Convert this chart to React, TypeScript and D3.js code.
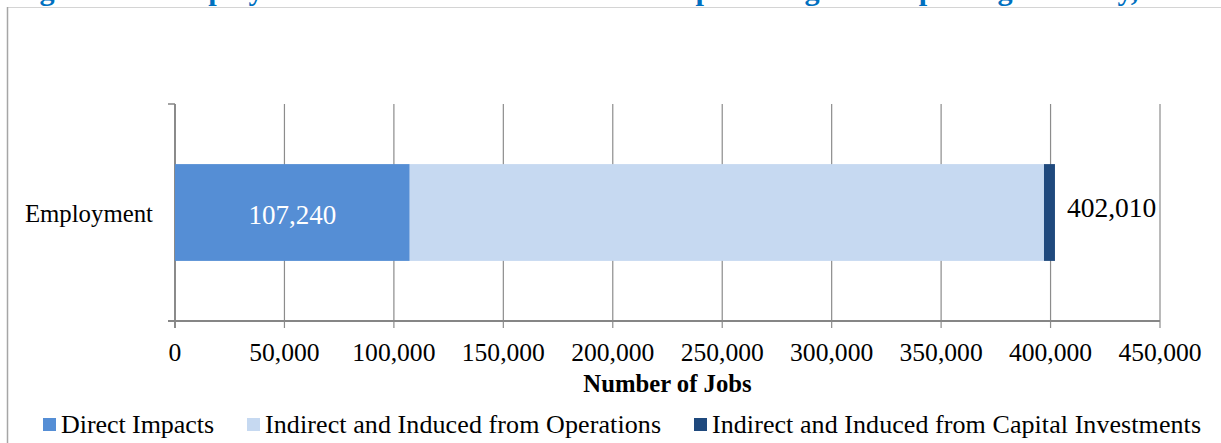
import React, { useEffect, useRef } from 'react';
import * as d3 from 'd3';

// chart values
const categories = ['Employment'];
const seriesNames = [
  'Direct Impacts',
  'Indirect and Induced from Operations',
  'Indirect and Induced from Capital Investments',
];
const seriesColors = ['#558ed5', '#c6d9f1', '#1f497d'];
const directImpacts = [107240];
const fromOperations = [289760];
const fromCapital = [5010];
const totals = [402010];
const xTicks = [0, 50000, 100000, 150000, 200000, 250000, 300000, 350000, 400000, 450000];
const xTitle = 'Number of Jobs';
const title = 'Figure 1-1: Employment Associated with the U.S. Shipbuilding and Repairing Industry, 2015';

const W = 1221;
const H = 443;
const FONT = '"Liberation Serif", "Times New Roman", serif';
// rendered widths of the legend entries, to keep their spread as in the source
const legendTextWidths = [153, 396, 489];

export default function App() {
  const ref = useRef<SVGSVGElement>(null);

  useEffect(() => {
    if (!ref.current) return;
    const svg = d3.select(ref.current);
    svg.selectAll('*').remove();

    const plot = { left: 175, right: 1160, top: 104, bottom: 321 };

    const x = d3.scaleLinear().domain([0, 450000]).range([plot.left, plot.right]);
    const y = d3.scaleBand().domain(categories).range([plot.top, plot.bottom]).padding(0.383);
    const fmt = d3.format(',');

    // title, mostly above the top edge (only descenders show)
    svg.append('text')
      .attr('x', 12.6)
      .attr('y', 0)
      .attr('fill', '#0070c0')
      .attr('font-family', FONT)
      .attr('font-weight', 'bold')
      .attr('font-size', 30.2)
      .text(title);

    // outer frame
    svg.append('line')
      .attr('x1', 7).attr('x2', W).attr('y1', 7.5).attr('y2', 7.5)
      .attr('stroke', '#d4d4d4').attr('stroke-width', 1);
    svg.append('line')
      .attr('x1', 7.5).attr('x2', 7.5).attr('y1', 7).attr('y2', H)
      .attr('stroke', '#a6a6a6').attr('stroke-width', 1.5);

    // gridlines
    svg.append('g')
      .selectAll('line')
      .data(xTicks)
      .join('line')
      .attr('x1', d => x(d)).attr('x2', d => x(d))
      .attr('y1', plot.top).attr('y2', plot.bottom + 7)
      .attr('stroke', '#8c8c8c').attr('stroke-width', 1.2);

    // axes
    svg.append('line')
      .attr('x1', plot.left - 7).attr('x2', plot.right)
      .attr('y1', plot.bottom).attr('y2', plot.bottom)
      .attr('stroke', '#868686').attr('stroke-width', 1.8);
    svg.append('line')
      .attr('x1', plot.left - 7).attr('x2', plot.left)
      .attr('y1', plot.top).attr('y2', plot.top)
      .attr('stroke', '#868686').attr('stroke-width', 1.5);
    svg.append('line')
      .attr('x1', plot.left).attr('x2', plot.left)
      .attr('y1', plot.top).attr('y2', plot.bottom + 7)
      .attr('stroke', '#868686').attr('stroke-width', 1.8);

    // tick labels
    svg.append('g')
      .selectAll('text')
      .data(xTicks)
      .join('text')
      .attr('x', d => x(d))
      .attr('y', 361)
      .attr('text-anchor', 'middle')
      .attr('font-family', FONT)
      .attr('font-size', 25.6)
      .attr('fill', '#000')
      .text(d => (d === 0 ? '0' : fmt(d)));

    svg.append('text')
      .attr('x', (plot.left + plot.right) / 2)
      .attr('y', 392)
      .attr('text-anchor', 'middle')
      .attr('font-family', FONT)
      .attr('font-weight', 'bold')
      .attr('font-size', 24.7)
      .text(xTitle);

    // category label
    svg.append('g')
      .selectAll('text')
      .data(categories)
      .join('text')
      .attr('x', 153)
      .attr('y', d => (y(d) as number) + y.bandwidth() / 2 + 9)
      .attr('text-anchor', 'end')
      .attr('font-family', FONT)
      .attr('font-size', 24.8)
      .text(d => d);

    // stacked bars
    const rows = categories.map((c, i) => ({
      cat: c,
      direct: directImpacts[i],
      ops: fromOperations[i],
      cap: fromCapital[i],
    }));
    const stack = d3.stack<any>().keys(['direct', 'ops', 'cap'])(rows);

    svg.append('g')
      .selectAll('g')
      .data(stack)
      .join('g')
      .attr('fill', (_, i) => seriesColors[i])
      .selectAll('rect')
      .data(d => d)
      .join('rect')
      .attr('x', d => x(d[0]))
      .attr('width', d => x(d[1]) - x(d[0]))
      .attr('y', d => y(d.data.cat) as number)
      .attr('height', y.bandwidth());

    // value labels
    svg.append('g')
      .selectAll('text')
      .data(rows)
      .join('text')
      .attr('x', d => (x(0) + x(d.direct)) / 2)
      .attr('y', d => (y(d.cat) as number) + y.bandwidth() / 2 + 11)
      .attr('text-anchor', 'middle')
      .attr('font-family', FONT)
      .attr('font-size', 27)
      .attr('fill', '#fff')
      .text(d => fmt(d.direct));

    svg.append('g')
      .selectAll('text')
      .data(categories)
      .join('text')
      .attr('x', (_, i) => x(totals[i]) + 12)
      .attr('y', d => (y(d) as number) + y.bandwidth() / 2 + 4.5)
      .attr('font-family', FONT)
      .attr('font-size', 27.5)
      .attr('fill', '#000')
      .text((_, i) => fmt(totals[i]));

    // legend
    const legend = svg.append('g');
    let lx = 43;
    seriesNames.forEach((name, i) => {
      legend.append('rect')
        .attr('x', lx).attr('y', 418)
        .attr('width', 13).attr('height', 13)
        .attr('fill', seriesColors[i]);
      legend.append('text')
        .attr('x', lx + 18)
        .attr('y', 433)
        .attr('font-family', FONT)
        .attr('font-size', 26)
        .attr('textLength', legendTextWidths[i])
        .attr('lengthAdjust', 'spacing')
        .text(name);
      lx = lx + 18 + legendTextWidths[i] + 33;
    });
  }, []);

  return (
    <svg
      ref={ref}
      width={W}
      height={H}
      style={{ position: 'absolute', left: 0, top: 0, background: '#fff' }}
    />
  );
}
